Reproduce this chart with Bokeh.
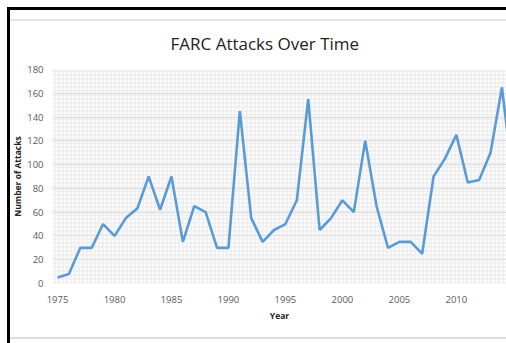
from bokeh.plotting import figure
from bokeh.layouts import column
from bokeh.models import ColumnDataSource, Range1d, SingleIntervalTicker, BoxAnnotation
from bokeh.embed import file_html
from bokeh.resources import INLINE

years = list(range(1975, 2016))
attacks = [5, 8, 30, 30, 50, 40, 55, 63, 90, 62,
           90, 35, 65, 60, 30, 30, 145, 55, 35, 45,
           50, 70, 155, 45, 55, 70, 60, 120, 65, 30,
           35, 35, 25, 90, 105, 125, 85, 87, 110, 165,
           85]
title_text = "FARC Attacks Over Time"
x_label = "Year"
y_label = "Number of Attacks"

src = ColumnDataSource(dict(year=years, attacks=attacks))

p = figure(width=506, height=343, output_backend="svg", toolbar_location=None,
           x_range=Range1d(1974.56, 2014.4), y_range=Range1d(0, 180),
           min_border_left=52, min_border_right=0, min_border_top=69, min_border_bottom=60)
p.outline_line_color = None
p.background_fill_color = "#fcfcfc"
p.border_fill_color = None
p.styles = {"border": "none", "outline": "none", "box-shadow": "none"}

p.title.text = title_text
p.title.align = "left"
p.title.offset = 118
p.title.standoff = 30
p.title.text_font = "Open Sans"
p.title.text_font_size = "17px"
p.title.text_font_style = "normal"
p.title.text_color = "#222222"

# textured background similar to Excel pattern fill
p.add_layout(BoxAnnotation(fill_color=None, line_color=None,
                           hatch_pattern="+", hatch_color="#e9e9e9", hatch_scale=4,
                           hatch_weight=1, level="underlay"))

p.xgrid.grid_line_color = None
p.ygrid.grid_line_color = "#d9d9d9"
p.ygrid.grid_line_width = 1

p.line("year", "attacks", source=src, line_color="#5b9bd5", line_width=2.6)

for ax in (p.xaxis, p.yaxis):
    ax.axis_line_color = None
    ax.major_tick_line_color = None
    ax.minor_tick_line_color = None
    ax.major_label_text_font = "Open Sans"
    ax.major_label_text_font_size = "9.5px"
    ax.major_label_text_color = "#595959"
    ax.axis_label_text_font = "Open Sans"
    ax.axis_label_text_font_style = "bold"
    ax.axis_label_text_font_size = "8.5px"
    ax.axis_label_text_color = "#222222"

p.xaxis.ticker = SingleIntervalTicker(interval=5)
p.yaxis.ticker = SingleIntervalTicker(interval=20)
p.xaxis.major_label_standoff = 6
p.yaxis.major_label_standoff = 3
p.xaxis.axis_label = x_label
p.yaxis.axis_label = y_label
p.xaxis.axis_label_standoff = 4
p.yaxis.axis_label_standoff = 1

# page frame lines drawn as the wrapper's background (canvas border is transparent)
page = column(p, width=506, height=343, styles={
    "border": "none",
    "outline": "none",
    "box-shadow": "none",
    "background-color": "white",
    "background-image": ("linear-gradient(black, black), linear-gradient(black, black), "
                         "linear-gradient(#e4e4e4, #e4e4e4), linear-gradient(#dedede, #dedede)"),
    "background-size": "3px 336px, 499px 3px, 496px 2px, 496px 2px",
    "background-position": "7px 7px, 7px 7px, 10px 19px, 10px 337px",
    "background-repeat": "no-repeat",
})

html = file_html(page, INLINE)
html = html.replace("<head>", "<head><style>html, body { margin: 0; overflow: hidden; }</style>", 1)
open("out.html", "w").write(html)
